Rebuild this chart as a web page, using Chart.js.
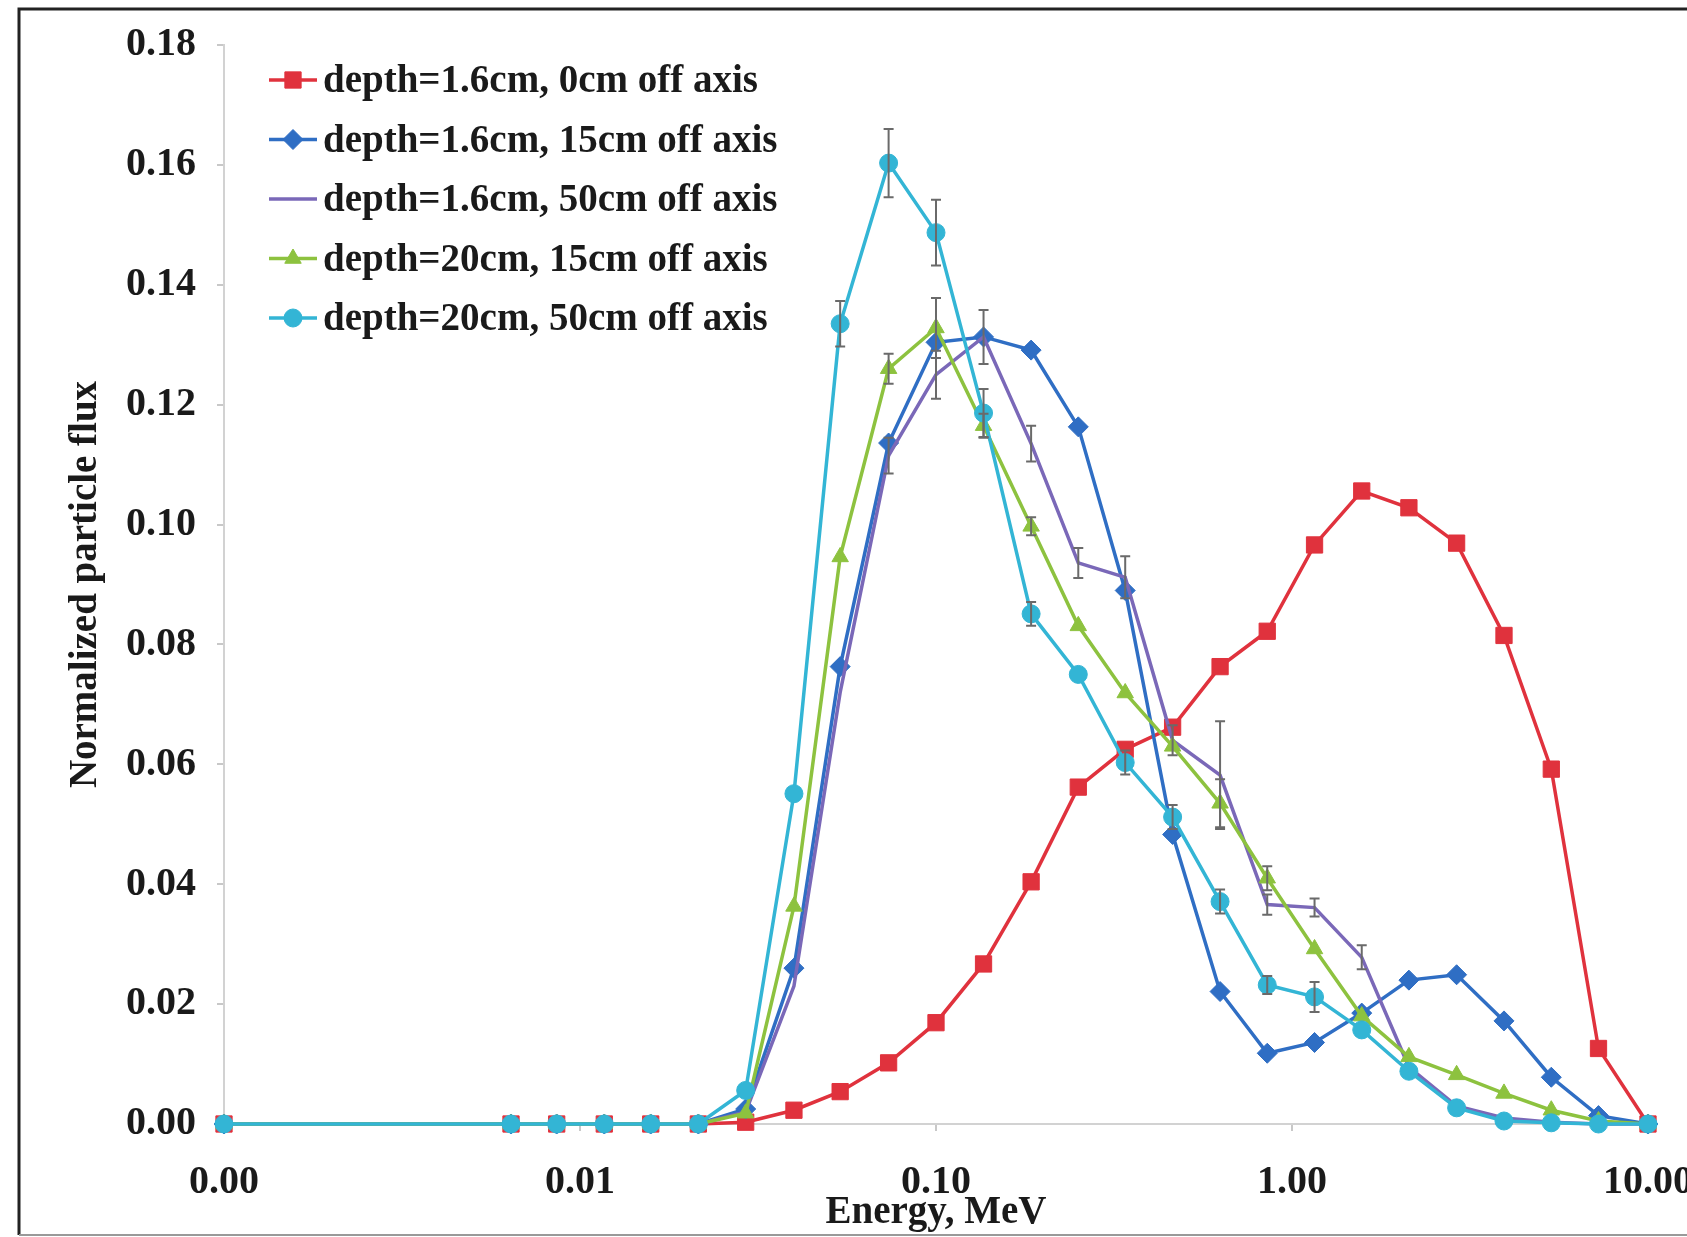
<!DOCTYPE html>
<html>
<head>
<meta charset="utf-8">
<script src="https://cdn.jsdelivr.net/npm/chart.js@4.4.1/dist/chart.umd.min.js"></script>
<style>
html, body { margin: 0; padding: 0; background: #fff; }
#wrap { width: 1687px; height: 1237px; }
</style>
</head>
<body>
<div id="wrap"><canvas id="myChart" width="1687" height="1237"></canvas></div>
<script>
var energy = [0.001, 0.0064, 0.0086, 0.0117, 0.0158, 0.0215, 0.0292, 0.0399, 0.0538, 0.0736,
              0.100, 0.136, 0.185, 0.251, 0.340, 0.462, 0.628, 0.852, 1.157, 1.57,
              2.13, 2.90, 3.94, 5.35, 7.26, 10.0];

var xTicks = [0.001, 0.01, 0.1, 1, 10];

var labels = [
    "depth=1.6cm, 0cm off axis",
    "depth=1.6cm, 15cm off axis",
    "depth=1.6cm, 50cm off axis",
    "depth=20cm, 15cm off axis",
    "depth=20cm, 50cm off axis"
];

var d16_0 = [0, 0, 0, 0, 0, 0, 0.0003, 0.0023, 0.0054, 0.0102,
             0.0169, 0.0267, 0.0404, 0.0562, 0.0625, 0.0662, 0.0763, 0.0822, 0.0966, 0.1056,
             0.1028, 0.0969, 0.0815, 0.0592, 0.0126, 0];

var d16_15 = [0, 0, 0, 0, 0, 0, 0.0025, 0.026, 0.0763, 0.1136,
              0.1304, 0.1313, 0.1291, 0.1163, 0.0890, 0.0483, 0.0221, 0.0118, 0.0136, 0.0185,
              0.0240, 0.0249, 0.0172, 0.0078, 0.0014, 0];

var d16_50 = [0, 0, 0, 0, 0, 0, 0.002, 0.023, 0.072, 0.1115,
              0.1250, 0.1313, 0.1135, 0.0936, 0.0912, 0.0640, 0.0582, 0.0366, 0.0361, 0.0278,
              0.0095, 0.0030, 0.0010, 0.0003, 0, 0];

var d20_15 = [0, 0, 0, 0, 0, 0, 0.0018, 0.0363, 0.0946, 0.1260,
              0.1328, 0.1165, 0.0997, 0.0831, 0.0719, 0.0630, 0.0535, 0.0410, 0.0292, 0.0180,
              0.0112, 0.0082, 0.0051, 0.0023, 0.0005, 0];

var d20_50 = [0, 0, 0, 0, 0, 0, 0.0056, 0.0551, 0.1335, 0.1603,
              0.1487, 0.1186, 0.0851, 0.0750, 0.0603, 0.0512, 0.0371, 0.0232, 0.0212, 0.0157,
              0.0088, 0.0027, 0.0005, 0.0002, 0, 0];

// Barras de error (mitad del intervalo)
var err16_50 = [null, null, null, null, null, null, null, null, null, 0.003,
                0.004, 0.0045, 0.003, 0.0025, 0.0035, 0.0025, 0.009, 0.0017, 0.0015, 0.002,
                null, null, null, null, null, null];
var err20_15 = [null, null, null, null, null, null, null, null, null, 0.0025,
                0.005, 0.002, 0.0015, null, null, null, 0.004, 0.002, null, null,
                null, null, null, null, null, null];
var err20_50 = [null, null, null, null, null, null, null, null, 0.0038, 0.0057,
                0.0055, 0.004, 0.002, null, 0.002, 0.002, 0.002, 0.0015, 0.0025, null,
                null, null, null, null, null, null];

var fuente = "'Liberation Serif', 'Times New Roman', serif";
var colorTexto = '#1a1a1a';

function puntos(valores) {
    return valores.map(function (v, i) { return { x: energy[i], y: v }; });
}

// Marco exterior de la figura
var marcoPlugin = {
    id: 'marco',
    beforeDraw: function (chart) {
        var ctx = chart.ctx;
        ctx.save();
        ctx.fillStyle = '#fff';
        ctx.fillRect(0, 0, chart.width, chart.height);
        ctx.strokeStyle = '#222';
        ctx.lineWidth = 3;
        ctx.beginPath();
        ctx.moveTo(chart.width, 9);
        ctx.lineTo(19, 9);
        ctx.lineTo(19, 1235);
        ctx.stroke();
        ctx.strokeStyle = '#999';
        ctx.lineWidth = 2;
        ctx.beginPath();
        ctx.moveTo(19, 1235);
        ctx.lineTo(chart.width, 1235);
        ctx.stroke();
        ctx.restore();
    }
};

// Barras de error con los ejes del grafico
var erroresPlugin = {
    id: 'errores',
    afterDatasetsDraw: function (chart) {
        var ctx = chart.ctx;
        var xs = chart.scales.x, ys = chart.scales.y;
        ctx.save();
        ctx.strokeStyle = '#6a6a6a';
        ctx.lineWidth = 2;
        chart.data.datasets.forEach(function (ds) {
            if (!ds.errores) return;
            ds.errores.forEach(function (e, j) {
                if (e == null) return;
                var px = xs.getPixelForValue(energy[j]);
                var v = ds.data[j].y;
                var y1 = ys.getPixelForValue(v + e);
                var y2 = ys.getPixelForValue(v - e);
                ctx.beginPath();
                ctx.moveTo(px, y1); ctx.lineTo(px, y2);
                ctx.moveTo(px - 5, y1); ctx.lineTo(px + 5, y1);
                ctx.moveTo(px - 5, y2); ctx.lineTo(px + 5, y2);
                ctx.stroke();
            });
        });
        ctx.restore();
    }
};

// Leyenda dentro del area del grafico
var leyendaPlugin = {
    id: 'leyenda',
    afterDraw: function (chart) {
        var ctx = chart.ctx;
        ctx.save();
        chart.data.datasets.forEach(function (ds, i) {
            var y = 80 + i * 59.5;
            ctx.strokeStyle = ds.borderColor;
            ctx.lineWidth = 3.5;
            ctx.beginPath();
            ctx.moveTo(269, y);
            ctx.lineTo(317, y);
            ctx.stroke();
            if (ds.pointRadius > 0) {
                ctx.fillStyle = ds.backgroundColor;
                ctx.strokeStyle = ds.borderColor;
                ctx.lineWidth = 1;
                Chart.helpers.drawPoint(ctx, { pointStyle: ds.pointStyle, radius: ds.pointRadius, borderWidth: 1, rotation: 0 }, 293, y);
            }
            ctx.fillStyle = colorTexto;
            ctx.font = 'bold 39px ' + fuente;
            ctx.textBaseline = 'middle';
            ctx.textAlign = 'left';
            ctx.fillText(ds.label, 323, y + 2);
        });
        ctx.restore();
    }
};

function serie(label, valores, color, estilo, radio, orden, errores) {
    return {
        label: label,
        data: puntos(valores),
        borderColor: color,
        backgroundColor: color,
        borderWidth: 3.5,
        pointStyle: estilo,
        pointRadius: radio,
        pointBorderWidth: 1,
        tension: 0,
        clip: false,
        order: orden,
        errores: errores
    };
}

var ctx = document.getElementById('myChart').getContext('2d');
var myChart = new Chart(ctx, {
    type: 'line',
    data: {
        datasets: [
            serie(labels[0], d16_0, '#E0323D', 'rect', 11.5, 5, null),
            serie(labels[1], d16_15, '#2F6EC4', 'rectRot', 10, 4, null),
            serie(labels[2], d16_50, '#7A68B8', 'circle', 0, 3, err16_50),
            serie(labels[3], d20_15, '#8DC23F', 'triangle', 9.5, 2, err20_15),
            serie(labels[4], d20_50, '#33B5D5', 'circle', 9, 1, err20_50)
        ]
    },
    options: {
        responsive: false,
        animation: false,
        devicePixelRatio: 1,
        layout: { padding: { left: 0, top: 45, right: 39, bottom: 0 } },
        plugins: {
            legend: { display: false },
            tooltip: { enabled: false }
        },
        scales: {
            x: {
                type: 'logarithmic',
                min: 0.001,
                max: 10,
                afterBuildTicks: function (scale) {
                    scale.ticks = xTicks.map(function (v) { return { value: v }; });
                },
                afterFit: function (scale) {
                    scale.height = 113;
                    scale.paddingLeft = 0;
                    scale.paddingRight = 0;
                },
                ticks: {
                    autoSkip: false,
                    maxRotation: 0,
                    padding: 28,
                    color: colorTexto,
                    font: { family: fuente, size: 40, weight: 'bold' },
                    callback: function (v) { return Number(v).toFixed(2); }
                },
                grid: { drawOnChartArea: false, drawTicks: true, tickLength: 7, color: '#c8c8c8', lineWidth: 2 },
                border: { color: '#d2d2d2', width: 2 },
                title: {
                    display: true,
                    text: 'Energy, MeV',
                    color: colorTexto,
                    font: { family: fuente, size: 39, weight: 'bold' },
                    padding: { top: 0, bottom: 1 }
                }
            },
            y: {
                min: 0,
                max: 0.18,
                afterFit: function (scale) { scale.width = 224; },
                ticks: {
                    stepSize: 0.02,
                    padding: 21,
                    color: colorTexto,
                    font: { family: fuente, size: 40, weight: 'bold' },
                    callback: function (v) { return Number(v).toFixed(2); }
                },
                grid: { drawOnChartArea: false, drawTicks: true, tickLength: 7, color: '#c8c8c8', lineWidth: 2 },
                border: { color: '#d2d2d2', width: 2 },
                title: {
                    display: true,
                    text: 'Normalized particle flux',
                    color: colorTexto,
                    font: { family: fuente, size: 39, weight: 'bold' },
                    padding: { top: 63, bottom: 0 }
                }
            }
        }
    },
    plugins: [marcoPlugin, erroresPlugin, leyendaPlugin]
});
</script>
</body>
</html>
